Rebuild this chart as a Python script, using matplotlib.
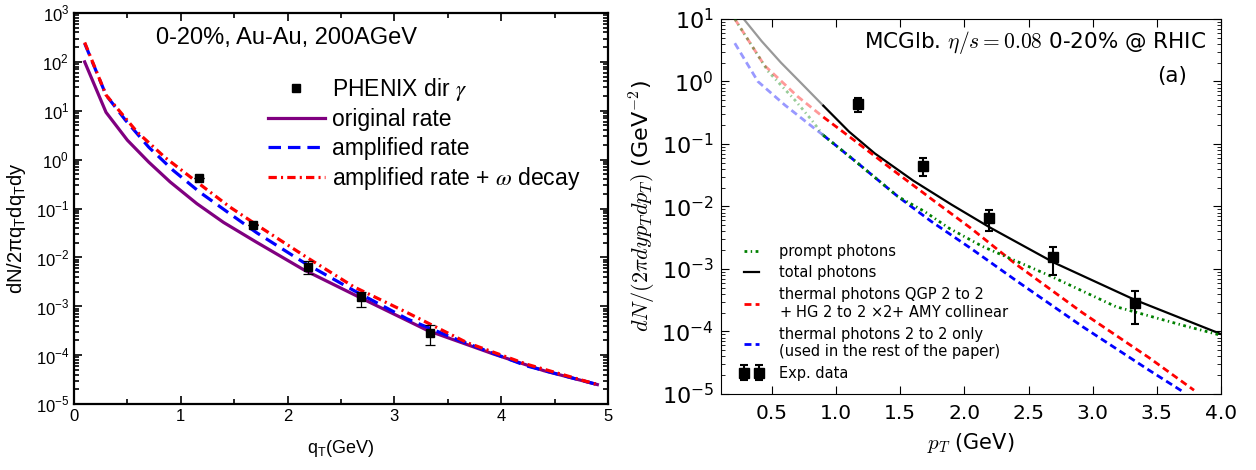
import numpy as np
import matplotlib
matplotlib.use('Agg')
import matplotlib.pyplot as plt
from matplotlib.ticker import FuncFormatter, MultipleLocator, LogLocator, NullFormatter

plt.rcParams['lines.scale_dashes'] = False

# ---- left panel: rates vs q_T (GeV)
q_orig = [0.1, 0.3, 0.5, 0.7, 0.9, 1.15, 1.4, 1.7, 2.15, 2.68, 3.31, 3.93, 4.4, 4.9]
y_orig = [100, 9.3, 2.5, 0.89, 0.35, 0.126, 0.052, 0.021, 5.6e-3, 1.5e-3, 3.2e-4, 1.05e-4, 4.8e-5, 2.5e-5]
q_ampl = [0.1, 0.3, 0.48, 0.7, 0.93, 1.18, 1.46, 1.71, 2.15, 2.62, 3.12, 3.62, 4.24, 4.9]
y_ampl = [240, 21, 6.5, 1.8, 0.60, 0.214, 0.078, 0.032, 7.9e-3, 2.1e-3, 5.5e-4, 1.95e-4, 6.0e-5, 2.5e-5]
q_omega = [0.1, 0.3, 0.59, 0.85, 1.15, 1.46, 1.74, 2.18, 2.62, 3.12, 3.68, 4.24, 4.9]
y_omega = [250, 21, 3.7, 1.12, 0.35, 0.107, 0.042, 0.010, 2.5e-3, 7.4e-4, 1.8e-4, 6.5e-5, 2.5e-5]

# PHENIX direct photons
pt_exp = [1.17, 1.68, 2.19, 2.69, 3.33]
y_exp = [0.43, 0.045, 0.0065, 0.00155, 0.00029]
lo_left = [0.43, 0.045, 0.0045, 0.00095, 0.00016]
hi_left = [0.43, 0.045, 0.0083, 0.0020, 0.00041]
lo_right = [0.32, 0.031, 0.0041, 0.00079, 0.000132]
hi_right = [0.55, 0.059, 0.0087, 0.00224, 0.000447]

# ---- right panel: photon spectra vs p_T (GeV)
p_total = [0.26, 0.42, 0.57, 0.73, 0.9, 1.1, 1.3, 1.6, 1.9, 2.2, 2.7, 3.33, 4.0]
y_total = [11.2, 4.4, 2.0, 0.93, 0.41, 0.158, 0.071, 0.026, 0.0107, 0.0046, 0.00126, 3.2e-4, 9.1e-5]
p_amy = [0.21, 0.44, 0.70, 0.9, 1.14, 1.46, 1.77, 2.05, 2.40, 2.92, 3.44, 3.79]
y_amy = [10, 1.82, 0.575, 0.27, 0.115, 0.036, 0.012, 0.0045, 0.0012, 2.0e-4, 3.8e-5, 1.15e-5]
p_22 = [0.21, 0.39, 0.60, 0.83, 0.9, 1.17, 1.48, 1.74, 2.05, 2.40, 2.92, 3.44, 3.70]
y_22 = [4.1, 1.0, 0.42, 0.178, 0.138, 0.049, 0.0145, 0.0058, 0.00214, 6.6e-4, 1.2e-4, 2.4e-5, 1.1e-5]
p_prompt = [0.21, 0.47, 0.68, 0.81, 0.9, 1.17, 1.48, 1.69, 1.88, 2.14, 2.66, 3.18, 3.70, 4.0]
y_prompt = [10, 1.45, 0.50, 0.24, 0.138, 0.049, 0.0145, 0.0083, 0.0045, 0.0023, 7.9e-4, 2.5e-4, 1.26e-4, 8.7e-5]
p_cut = 0.9   # below this the curves are drawn faded

fig = plt.figure(figsize=(12.56, 4.70), dpi=100)

# ================= LEFT =================
LF = 'Liberation Sans'
ax1 = fig.add_axes([0.0589, 0.1404, 0.4252, 0.8319])
ax1.set_yscale('log')
ax1.plot(q_orig, y_orig, color='#800080', lw=2.3, label='original rate')
ax1.plot(q_ampl, y_ampl, color='blue', lw=2.3, linestyle=(0, (9, 5)), label='amplified rate')
ax1.plot(q_omega, y_omega, color='red', lw=2.3, linestyle=(0, (6, 3, 1.5, 3)),
         label='amplified rate + $\\omega$ decay')
yl = np.array(y_exp) - np.array(lo_left)
yh = np.array(hi_left) - np.array(y_exp)
eb = ax1.errorbar(pt_exp, y_exp, yerr=[yl, yh], fmt='s', color='black', ms=5.5,
                  elinewidth=0.9, capsize=3.5, capthick=0.9, zorder=5)
ax1.set_xlim(0, 5)
ax1.set_ylim(1e-5, 1e3)
ax1.xaxis.set_major_locator(MultipleLocator(1))
ax1.xaxis.set_minor_locator(MultipleLocator(0.5))
ax1.yaxis.set_major_locator(LogLocator(base=10, numticks=20))
ax1.yaxis.set_minor_locator(LogLocator(base=10, subs=np.arange(2, 10), numticks=20))
ax1.yaxis.set_minor_formatter(NullFormatter())
ax1.yaxis.set_major_formatter(FuncFormatter(
    lambda v, _: '10$^{\\mathregular{%d}}$' % int(round(np.log10(v)))))
ax1.tick_params(which='both', direction='in', top=True, right=True, labelsize=12,
                labelfontfamily=LF, width=1.2)
ax1.tick_params(which='major', length=6)
ax1.tick_params(which='minor', length=3.5)
for s in ax1.spines.values():
    s.set_linewidth(1.6)
ax1.set_xlabel('q$_\\mathregular{T}$(GeV)', fontsize=13, fontfamily=LF, labelpad=10)
ax1.set_ylabel('dN/2πq$_\\mathregular{T}$dq$_\\mathregular{T}$dy', fontsize=14.5,
               fontfamily=LF)
ax1.yaxis.set_label_coords(-0.086, 0.45)
ax1.text(0.154, 0.936, '0-20%, Au-Au, 200AGeV', transform=ax1.transAxes, fontsize=17,
         fontfamily=LF, va='center', ha='left')

h, l = ax1.get_legend_handles_labels()
leg1 = ax1.legend([eb[0]] + h, ['PHENIX dir $\\gamma$'] + l, loc='upper left',
                  bbox_to_anchor=(0.363, 0.84), frameon=False,
                  prop={'family': LF, 'size': 16.5}, numpoints=1, handlelength=2.5,
                  handletextpad=0.3, labelspacing=0.24, borderpad=0, borderaxespad=0)
for t in leg1.get_texts():
    t.set_math_fontfamily('stix')

# ================= RIGHT =================
RF = 'DejaVu Sans'
ax2 = fig.add_axes([0.5738, 0.1617, 0.3983, 0.7979])
ax2.set_yscale('log')


def two_tone(ax, p, y, color, label, z=2, **kw):
    p = np.array(p)
    y = np.array(y)
    lo = p <= p_cut
    hi = p >= p_cut
    ax.plot(p[lo], y[lo], color=color, alpha=0.4, zorder=z, **kw)
    ax.plot(p[hi], y[hi], color=color, label=label, zorder=z, **kw)


two_tone(ax2, p_prompt, y_prompt, 'green', 'prompt photons', z=3, lw=2,
         linestyle=(0, (2, 2.5, 1, 2.5)))
two_tone(ax2, p_total, y_total, 'black', 'total photons', lw=1.6, linestyle='-')
two_tone(ax2, p_amy, y_amy, 'red',
         'thermal photons QGP 2 to 2\n+ HG 2 to 2 $\\times$2+ AMY collinear',
         lw=2, linestyle=(0, (5, 3)))
two_tone(ax2, p_22, y_22, 'blue',
         'thermal photons 2 to 2 only\n(used in the rest of the paper)',
         lw=2, linestyle=(0, (5, 3)))
yl = np.array(y_exp) - np.array(lo_right)
yh = np.array(hi_right) - np.array(y_exp)
ax2.errorbar(pt_exp, y_exp, yerr=[yl, yh], fmt='s', color='black', ms=7, elinewidth=1.5,
             capsize=3, capthick=1.5, label='Exp. data', zorder=5)
ax2.set_xlim(0.1, 4.0)
ax2.set_ylim(1e-5, 10)
ax2.xaxis.set_major_locator(MultipleLocator(0.5))
ax2.yaxis.set_major_locator(LogLocator(base=10, numticks=20))
ax2.yaxis.set_minor_locator(LogLocator(base=10, subs=np.arange(2, 10), numticks=20))
ax2.yaxis.set_minor_formatter(NullFormatter())
ax2.yaxis.set_major_formatter(FuncFormatter(
    lambda v, _: '10$^{\\mathregular{%d}}$' % int(round(np.log10(v)))))
ax2.xaxis.set_major_formatter(FuncFormatter(lambda v, _: '%.1f' % v))
ax2.tick_params(which='both', direction='in', top=True, right=True, labelfontfamily=RF)
ax2.tick_params(axis='x', labelsize=14.5, pad=7)
ax2.tick_params(axis='y', labelsize=16, pad=5)
ax2.tick_params(which='major', length=6)
ax2.tick_params(which='minor', length=3)
ax2.set_xlabel('$p_T$ (GeV)', fontsize=15, fontfamily=RF, math_fontfamily='cm', labelpad=6)
ax2.set_ylabel('$dN/(2\\pi dy p_T dp_T)$ (GeV$^{-2}$)', fontsize=16, fontfamily=RF,
               math_fontfamily='cm', labelpad=2)
ax2.text(0.970, 0.936, 'MCGlb. $\\eta/s = 0.08$ 0-20% @ RHIC', transform=ax2.transAxes,
         fontsize=15.5, fontfamily=RF, math_fontfamily='cm', ha='right', va='center')
ax2.text(0.932, 0.848, '(a)', transform=ax2.transAxes, fontsize=15.5, fontfamily=RF,
         ha='right', va='center')

leg2 = ax2.legend(loc='lower left', bbox_to_anchor=(0.012, 0.0), frameon=False,
                  prop={'family': RF, 'size': 10.5}, numpoints=2, handlelength=1.6,
                  handletextpad=1.1, labelspacing=0.45)

fig.savefig('out.png', dpi=100)
